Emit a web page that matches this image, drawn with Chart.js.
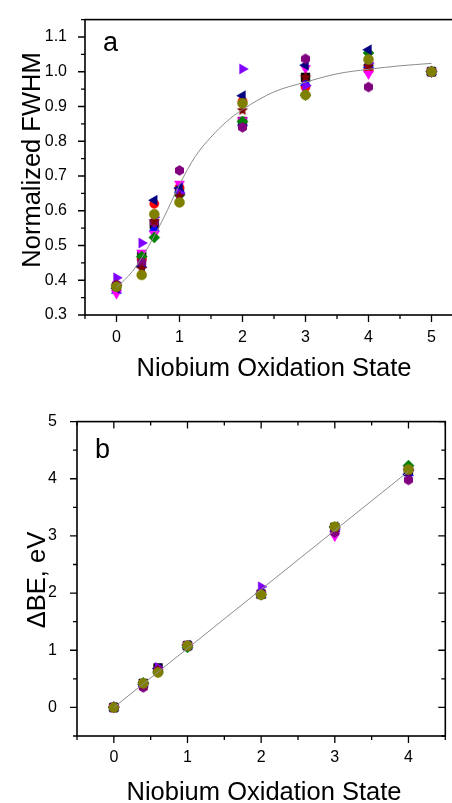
<!DOCTYPE html>
<html lang="en">
<head>
<meta charset="UTF-8">
<title>Normalized FWHM and BE shift vs niobium oxidation state</title>
<script src="https://cdn.jsdelivr.net/npm/chart.js@4.4.0/dist/chart.umd.min.js"></script>
<style>
  html, body { margin: 0; padding: 0; background: #fff; overflow: hidden; }
  #wrap { position: relative; width: 452px; height: 803px; overflow: hidden; }
  canvas { position: absolute; left: 0; }
</style>
</head>
<body>
<div id="wrap">
  <canvas id="chartA" width="480" height="400" style="top:0"></canvas>
  <canvas id="chartB" width="452" height="403" style="top:400px"></canvas>
</div>
<script>
// ---- data ----
const statesA = [0, 0.4, 0.6, 1, 2, 3, 4, 5];
const statesB = [0, 0.4, 0.6, 1, 2, 3, 4];

// panel a: normalized FWHM per sample
const fwhmBlack   = [0.380, 0.470, 0.561, 0.654, 0.857, 0.984, 1.010, 1.000];
const fwhmRed     = [0.383, 0.460, 0.620, 0.667, 0.915, 0.956, 1.005, 1.000];
const fwhmBlue    = [0.370, 0.445, 0.549, 0.660, 0.852, 0.968, 1.020, 1.000];
const fwhmMagenta = [0.362, 0.479, 0.533, 0.677, 0.860, 1.010, 0.994, 1.000];
const fwhmGreen   = [0.384, 0.468, 0.523, 0.645, 0.857, 0.933, 1.054, 1.000];
const fwhmNavy    = [0.377, 0.440, 0.630, 0.665, 0.931, 1.019, 1.063, 1.000];
const fwhmViolet  = [0.407, 0.507, 0.581, 0.650, 1.008, 0.960, 1.025, 1.000];
const fwhmPurple  = [0.388, 0.451, 0.566, 0.716, 0.840, 1.037, 0.956, 1.000];
const fwhmWine    = [0.385, 0.433, 0.570, 0.642, 0.889, 0.984, 1.015, 1.000];
const fwhmOlive   = [0.381, 0.415, 0.590, 0.624, 0.909, 0.933, 1.035, 1.000];

// fitted curve, panel a
const fitX = [0, 0.25, 0.5, 0.75, 1, 1.25, 1.5, 1.75, 2, 2.5, 3, 3.5, 4, 4.5, 5];
const fitY = [0.379, 0.425, 0.495, 0.580, 0.675, 0.756, 0.812, 0.857, 0.891, 0.942, 0.970, 0.994, 1.007, 1.017, 1.024];

// panel b: binding energy shift, eV
const dbeBlack   = [0, 0.42, 0.69, 1.08, 1.98, 3.15, 4.15];
const dbeRed     = [0, 0.42, 0.63, 1.08, 1.98, 3.14, 4.16];
const dbeBlue    = [0, 0.41, 0.64, 1.07, 1.97, 3.13, 4.10];
const dbeMagenta = [0, 0.38, 0.64, 1.08, 1.98, 3.00, 4.18];
const dbeGreen   = [0, 0.43, 0.62, 1.05, 1.97, 3.15, 4.23];
const dbeNavy    = [0, 0.40, 0.68, 1.09, 1.99, 3.16, 4.08];
const dbeViolet  = [0, 0.41, 0.70, 1.08, 2.11, 3.12, 4.15];
const dbePurple  = [0, 0.35, 0.66, 1.08, 1.98, 3.06, 3.98];
const dbeWine    = [0, 0.40, 0.63, 1.07, 1.98, 3.14, 4.14];
const dbeOlive   = [0, 0.42, 0.61, 1.08, 1.97, 3.16, 4.16];

// linear fit, panel b
const lineX = [0, 4];
const lineY = [0, 4.13];

const xTicksA = [0, 1, 2, 3, 4, 5];
const yTicksA = [0.3, 0.4, 0.5, 0.6, 0.7, 0.8, 0.9, 1.0, 1.1];
const xTicksB = [0, 1, 2, 3, 4];
const yTicksB = [0, 1, 2, 3, 4, 5];

// ---- marker shapes ----
function polyMarker(kind, color, r) {
  const c = document.createElement('canvas');
  const n = Math.ceil(r * 2 + 2);
  c.width = c.height = n;
  const g = c.getContext('2d');
  g.fillStyle = color;
  g.beginPath();
  const pts = kind === 'hex' ? 6 : 10;
  for (let i = 0; i < pts; i++) {
    const ang = -Math.PI / 2 + i * 2 * Math.PI / pts;
    const rr = (kind === 'star' && i % 2) ? r * 0.45 : r;
    g.lineTo(n / 2 + rr * Math.cos(ang), n / 2 + rr * Math.sin(ang));
  }
  g.closePath();
  g.fill();
  return c;
}

// first entry is drawn on top
const series = [
  { a: fwhmOlive,   b: dbeOlive,   color: '#808000', style: 'circle',   r: 5 },
  { a: fwhmWine,    b: dbeWine,    color: '#800000', style: polyMarker('star', '#800000', 6), r: 6 },
  { a: fwhmPurple,  b: dbePurple,  color: '#800080', style: polyMarker('hex', '#800080', 5.2), r: 5 },
  { a: fwhmViolet,  b: dbeViolet,  color: '#8000ff', style: 'triangle', rot: 90,  r: 5.8 },
  { a: fwhmNavy,    b: dbeNavy,    color: '#000080', style: 'triangle', rot: -90, r: 5.8 },
  { a: fwhmGreen,   b: dbeGreen,   color: '#008000', style: 'rectRot',  r: 5.5 },
  { a: fwhmMagenta, b: dbeMagenta, color: '#ff00ff', style: 'triangle', rot: 180, r: 5.8 },
  { a: fwhmBlue,    b: dbeBlue,    color: '#0000ff', style: 'triangle', r: 5.8 },
  { a: fwhmRed,     b: dbeRed,     color: '#ff0000', style: 'circle',   r: 4.6 },
  { a: fwhmBlack,   b: dbeBlack,   color: '#000000', style: 'rect',     r: 6.2 }
];

function pts(xs, ys) { return xs.map((x, i) => ({ x: x, y: ys[i] })); }

function markerSets(key, xs) {
  return series.map(s => ({
    data: pts(xs, s[key]),
    pointStyle: s.style,
    rotation: s.rot || 0,
    pointRadius: s.r,
    backgroundColor: s.color,
    borderColor: s.color,
    borderWidth: 0.5,
    showLine: false
  }));
}

const FONT = '"Liberation Sans", Arial, sans-serif';

// frame + major/minor ticks, drawn off the chart's own scales
const frameTicks = {
  id: 'frameTicks',
  afterDraw(chart, args, o) {
    const { ctx, chartArea: a, scales: { x, y } } = chart;
    ctx.save();
    ctx.strokeStyle = '#000';
    ctx.lineWidth = 1.6;
    ctx.strokeRect(a.left, a.top, a.right - a.left, a.bottom - a.top);
    ctx.lineWidth = 1.3;
    const major = 7, minor = 4;
    const list = (scale, step) => {
      const out = [];
      for (let v = scale.min; v <= scale.max + 1e-9; v += step / 2) {
        const onMajor = Math.abs(v / step - Math.round(v / step)) < 1e-6;
        out.push([scale.getPixelForValue(v), onMajor ? major : minor]);
      }
      return out;
    };
    ctx.beginPath();
    for (const [px, len] of list(x, o.xStep)) {
      ctx.moveTo(px, a.bottom); ctx.lineTo(px, a.bottom + len);
      if (o.mirror) { ctx.moveTo(px, a.top); ctx.lineTo(px, a.top + len); }
    }
    for (const [py, len] of list(y, o.yStep)) {
      ctx.moveTo(a.left, py); ctx.lineTo(a.left - len, py);
      if (o.mirror) { ctx.moveTo(a.right, py); ctx.lineTo(a.right - len, py); }
    }
    ctx.stroke();

    // titles and panel letter
    ctx.fillStyle = '#000';
    ctx.textAlign = 'center';
    ctx.textBaseline = 'alphabetic';
    ctx.font = '25.5px ' + FONT;
    ctx.fillText(o.xTitle, o.xTitlePos[0], o.xTitlePos[1]);
    ctx.save();
    ctx.translate(o.yTitlePos[0], o.yTitlePos[1]);
    ctx.rotate(-Math.PI / 2);
    ctx.fillText(o.yTitle, 0, 0);
    ctx.restore();
    ctx.textAlign = 'left';
    ctx.font = '27px ' + FONT;
    ctx.fillText(o.letter, o.letterPos[0], o.letterPos[1]);
    ctx.restore();
  }
};

function axis(min, max, tickVals, size, pad, fmt, horizontal) {
  return {
    type: 'linear',
    min: min,
    max: max,
    afterBuildTicks: s => { s.ticks = tickVals.map(v => ({ value: v })); },
    afterFit: s => { if (horizontal) s.height = size; else s.width = size; },
    grid: { display: false },
    border: { display: false },
    ticks: {
      color: '#000',
      font: { family: FONT, size: 16 },
      padding: pad,
      maxRotation: 0,
      autoSkip: false,
      callback: fmt
    }
  };
}

const common = {
  responsive: false,
  animation: false,
  events: [],
  plugins: { legend: { display: false }, tooltip: { enabled: false } }
};

// ---- panel a ----
new Chart(document.getElementById('chartA'), {
  type: 'scatter',
  data: {
    datasets: [{
      type: 'line',
      data: pts(fitX, fitY),
      borderColor: '#8c8c8c',
      borderWidth: 1,
      pointRadius: 0,
      cubicInterpolationMode: 'monotone',
      fill: false
    }].concat(markerSets('a', statesA))
  },
  options: Object.assign({}, common, {
    layout: { padding: { left: 0, top: 10, right: 17, bottom: 0 } },
    scales: {
      x: axis(-0.5, 5.5, xTicksA, 85, 5, v => String(v), true),
      y: axis(0.3, 1.15, yTicksA, 85, 10, v => v.toFixed(1), false)
    },
    plugins: Object.assign({}, common.plugins, {
      frameTicks: {
        xStep: 1, yStep: 0.1, mirror: false,
        xTitle: 'Niobium Oxidation State', xTitlePos: [274, 376],
        yTitle: 'Normalized FWHM', yTitlePos: [40, 160],
        letter: 'a', letterPos: [103, 51]
      }
    })
  }),
  plugins: [frameTicks]
});

// ---- panel b ----
new Chart(document.getElementById('chartB'), {
  type: 'scatter',
  data: {
    datasets: [{
      type: 'line',
      data: pts(lineX, lineY),
      borderColor: '#8c8c8c',
      borderWidth: 1,
      pointRadius: 0,
      fill: false
    }].concat(markerSets('b', statesB))
  },
  options: Object.assign({}, common, {
    layout: { padding: { left: 0, top: 12, right: 1, bottom: 0 } },
    scales: {
      x: axis(-0.5, 4.5, xTicksB, 67, 4, v => String(v), true),
      y: axis(-0.5, 5, yTicksB, 77, 12, v => String(v), false)
    },
    plugins: Object.assign({}, common.plugins, {
      frameTicks: {
        xStep: 1, yStep: 1, mirror: true,
        xTitle: 'Niobium Oxidation State', xTitlePos: [264, 400],
        yTitle: '\u0394BE, eV', yTitlePos: [45, 180],
        letter: 'b', letterPos: [95, 58]
      }
    })
  }),
  plugins: [frameTicks]
});
</script>
</body>
</html>
